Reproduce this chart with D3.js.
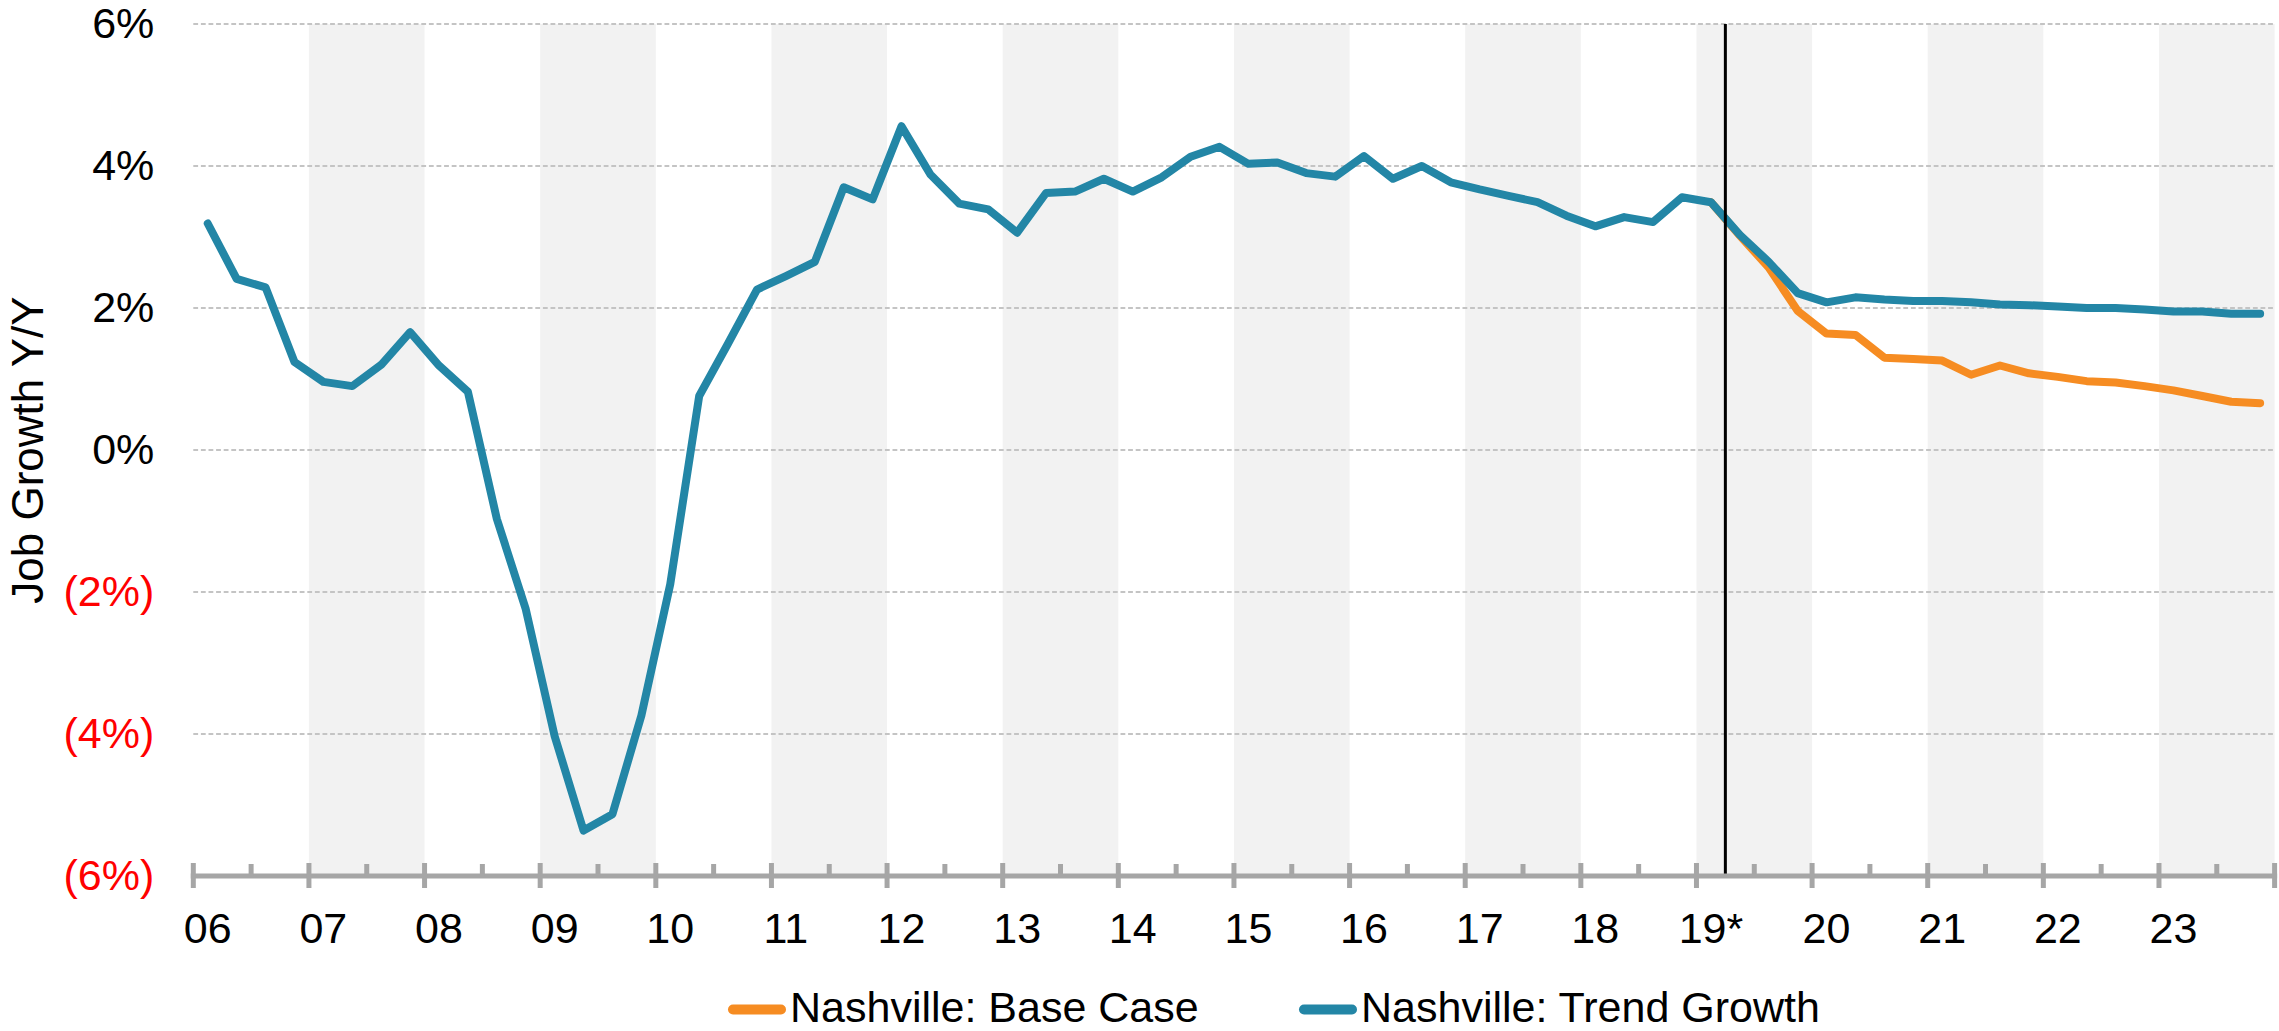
<!DOCTYPE html>
<html>
<head>
<meta charset="utf-8">
<script src="https://cdn.jsdelivr.net/npm/d3@7"></script>
<style>
  html, body { margin: 0; padding: 0; background: #ffffff; }
  svg { display: block; }
  text { font-family: "Liberation Sans", Arial, Helvetica, sans-serif; }
</style>
</head>
<body>
<svg id="chart" width="2279" height="1031"></svg>
<script>
// Years on the axis (two-digit), quarterly observations per year
const years = ["06","07","08","09","10","11","12","13","14","15","16","17","18","19","20","21","22","23"];
const quarters = ["Q1","Q2","Q3","Q4"];
// Axis labels shown under each year (2019 marked as the forecast year)
const yearLabels = ["06","07","08","09","10","11","12","13","14","15","16","17","18","19*","20","21","22","23"];

// Nashville job growth, Y/Y %, trend growth scenario (one value per quarter, 06Q1..23Q4)
const trendGrowth = [
  3.19, 2.41, 2.29, 1.24,   0.96, 0.90, 1.20, 1.66,   1.19, 0.82, -0.97, -2.24,
 -4.03, -5.36, -5.13, -3.74, -1.89, 0.76, 1.50, 2.26,  2.45, 2.65, 3.70, 3.53,
  4.56, 3.88, 3.47, 3.39,   3.06, 3.62, 3.64, 3.82,   3.64, 3.84, 4.13, 4.27,
  4.03, 4.05, 3.90, 3.85,   4.14, 3.82, 4.00, 3.77,   3.67, 3.58, 3.49, 3.30,
  3.15, 3.28, 3.21, 3.56,   3.49, 3.03, 2.65, 2.21,   2.08, 2.15, 2.12, 2.10,
  2.10, 2.08, 2.05, 2.04,   2.02, 2.00, 2.00, 1.98,   1.95, 1.95, 1.92, 1.92
];
// Base case scenario: only defined from 19Q1 onward
const baseCase = [
  null, null, null, null,   null, null, null, null,   null, null, null, null,
  null, null, null, null,   null, null, null, null,   null, null, null, null,
  null, null, null, null,   null, null, null, null,   null, null, null, null,
  null, null, null, null,   null, null, null, null,   null, null, null, null,
  null, null, null, null,   3.49, 3.02, 2.57, 1.96,   1.64, 1.62, 1.30, 1.28,
  1.26, 1.06, 1.19, 1.08,   1.03, 0.97, 0.95, 0.90,   0.84, 0.76, 0.68, 0.66
];
const yTicks = [-6, -4, -2, 0, 2, 4, 6];
const forecastStart = "19Q2";
const seriesNames = ["Nashville: Base Case", "Nashville: Trend Growth"];
const seriesColors = ["#f68c22", "#2386a6"];

const categories = years.flatMap(yr => quarters.map(q => yr + q));

const svg = d3.select("#chart");
const plotLeft = 193.3, plotRight = 2274.6, plotTop = 24, plotBottom = 876;

const x = d3.scaleBand().domain(categories).range([plotLeft, plotRight]).padding(0);
const bw = x.bandwidth();
const cx = c => x(c) + bw / 2;
const y = d3.scaleLinear().domain([-6, 6]).range([plotBottom, plotTop]);

// Alternating shaded year bands (odd years)
const shaded = years.filter((yr, i) => i % 2 === 1);
svg.append("g").selectAll("rect").data(shaded).join("rect")
  .attr("x", d => x(d + "Q1"))
  .attr("y", plotTop)
  .attr("width", bw * 4)
  .attr("height", plotBottom - plotTop)
  .attr("fill", "#f2f2f2");

// Horizontal dashed gridlines
svg.append("g").selectAll("line").data(yTicks.filter(v => v > -6)).join("line")
  .attr("x1", plotLeft).attr("x2", plotRight)
  .attr("y1", d => y(d)).attr("y2", d => y(d))
  .attr("stroke", "#c4c4c4")
  .attr("stroke-width", 2)
  .attr("stroke-dasharray", "4.8,2.8");

// Y axis labels (negative values in parentheses, red)
const yAxis = d3.axisLeft(y).tickValues(yTicks).tickSize(0).tickPadding(39)
  .tickFormat(v => v < 0 ? `(${-v}%)` : `${v}%`);
const gy = svg.append("g").attr("transform", `translate(${plotLeft},0)`).call(yAxis);
gy.select(".domain").remove();
gy.selectAll("text")
  .attr("font-size", 43)
  .attr("fill", d => d < 0 ? "#ff0000" : "#000000")
  .attr("font-family", "'Liberation Sans', Arial, sans-serif");

// Y axis title
svg.append("text")
  .attr("transform", `translate(43,${(plotTop + plotBottom) / 2}) rotate(-90)`)
  .attr("text-anchor", "middle")
  .attr("font-size", 44)
  .attr("fill", "#000")
  .text("Job Growth Y/Y");

// Series lines
const line = d3.line()
  .defined(d => d.v !== null)
  .x(d => cx(d.c))
  .y(d => y(d.v));

const seriesData = [baseCase, trendGrowth].map(vals => categories.map((c, i) => ({ c, v: vals[i] })));

svg.append("g").selectAll("path").data(seriesData).join("path")
  .attr("d", line)
  .attr("fill", "none")
  .attr("stroke", (d, i) => seriesColors[i])
  .attr("stroke-width", 8)
  .attr("stroke-linejoin", "round")
  .attr("stroke-linecap", "round");

// Forecast divider
svg.append("line")
  .attr("x1", x(forecastStart)).attr("x2", x(forecastStart))
  .attr("y1", plotTop).attr("y2", plotBottom)
  .attr("stroke", "#000")
  .attr("stroke-width", 3);

// X axis: baseline with major ticks at each year and minor at mid-year
const axisG = svg.append("g");
axisG.append("line")
  .attr("x1", plotLeft - 2.5).attr("x2", plotRight + 2.5)
  .attr("y1", plotBottom).attr("y2", plotBottom)
  .attr("stroke", "#a6a6a6").attr("stroke-width", 5);

const tickCats = categories.filter((c, i) => i % 2 === 0);
axisG.selectAll("line.tick").data(tickCats).join("line")
  .attr("class", "tick")
  .attr("x1", d => x(d)).attr("x2", d => x(d))
  .attr("y1", d => d.endsWith("Q1") ? plotBottom - 13 : plotBottom - 12)
  .attr("y2", d => d.endsWith("Q1") ? plotBottom + 12 : plotBottom)
  .attr("stroke", "#a6a6a6").attr("stroke-width", 5);
axisG.append("line")
  .attr("x1", plotRight).attr("x2", plotRight)
  .attr("y1", plotBottom - 13).attr("y2", plotBottom + 12)
  .attr("stroke", "#a6a6a6").attr("stroke-width", 5);

// Year labels under the first quarter of each year
const labelCats = years.map(yr => yr + "Q1");
const xAxis = d3.axisBottom(x).tickValues(labelCats).tickSize(0).tickPadding(0)
  .tickFormat(c => yearLabels[years.indexOf(c.slice(0, 2))]);
const gx = svg.append("g").attr("transform", `translate(0,${plotBottom})`).call(xAxis);
gx.select(".domain").remove();
gx.selectAll("text")
  .attr("font-size", 43)
  .attr("fill", "#000")
  .attr("font-family", "'Liberation Sans', Arial, sans-serif")
  .attr("dy", null)
  .attr("y", 67);

// Legend
const legendItems = [
  { name: seriesNames[0], color: seriesColors[0], x0: 728 },
  { name: seriesNames[1], color: seriesColors[1], x0: 1299 }
];
const lg = svg.append("g").selectAll("g").data(legendItems).join("g");
lg.append("line")
  .attr("x1", d => d.x0 + 5).attr("x2", d => d.x0 + 53)
  .attr("y1", 1009.5).attr("y2", 1009.5)
  .attr("stroke", d => d.color)
  .attr("stroke-width", 10)
  .attr("stroke-linecap", "round");
lg.append("text")
  .attr("x", d => d.x0 + 62)
  .attr("y", 1022)
  .attr("font-size", 43)
  .attr("fill", "#000")
  .text(d => d.name);
</script>
</body>
</html>
